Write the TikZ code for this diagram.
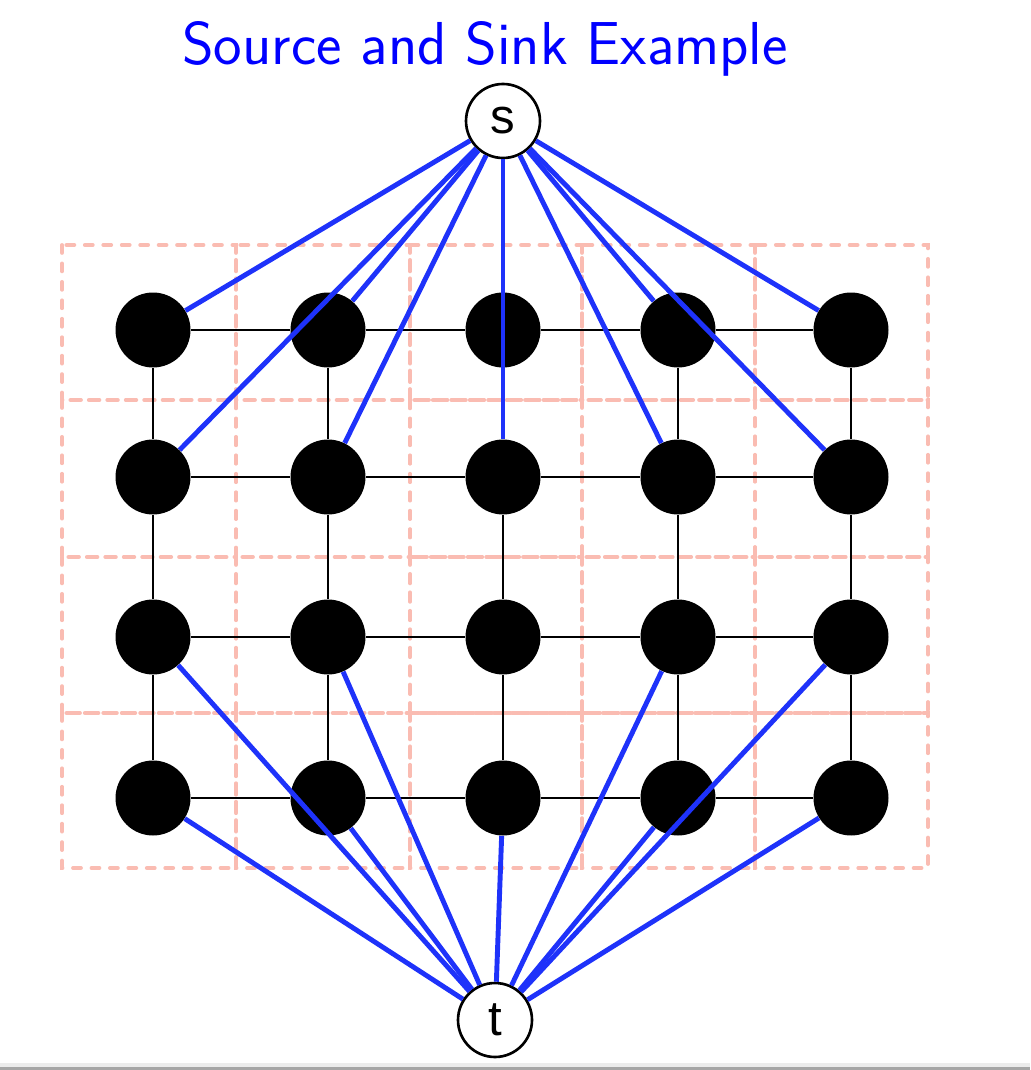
\documentclass[tikz,border=0pt]{standalone}
\usepackage{fontspec}
\newfontfamily\labelfont{Liberation Sans}
\usetikzlibrary{positioning}
\definecolor{cellpink}{RGB}{250,188,178}
\definecolor{edgeblue}{RGB}{30,50,250}
\tikzset{
  gridnode/.style={circle,fill=black,draw=none,minimum size=1.5cm,inner sep=0pt},
  termnode/.style={circle,draw=black,line width=1.5pt,fill=white,minimum size=1.48cm,
    inner sep=0pt,font=\labelfont\fontsize{28}{32}\selectfont},
  cellbox/.style={draw=cellpink,line width=2.2pt,dash pattern=on 4.5pt off 6pt,line cap=round},
  gridedge/.style={draw=black,line width=1.1pt},
  flowedge/.style={draw=edgeblue,line width=2.8pt}
}

\begin{document}
\begin{tikzpicture}[x=0.02cm,y=-0.02cm]
  \useasboundingbox (0,0) rectangle (1030,1070);

  % Title
  \node[font=\sffamily\fontsize{34.5}{40}\selectfont,text=blue] (title) at (485,49) {Source and Sink Example};

  % Dashed cells
  \foreach \xa/\xb in {62/236,236/410,410/582,582/755,755/928}{
    \foreach \ya/\yb in {245/400,400/557,557/713,713/868}{
      \draw[cellbox] (\xa,\ya) rectangle (\xb,\yb);
    }
  }

  % Grid nodes
  \foreach \c/\x in {0/153,1/328,2/503,3/678,4/851}{
    \foreach \r/\y in {0/330,1/477,2/637,3/798}{
      \node[gridnode] (n\r\c) at (\x,\y) {};
    }
  }

  % Grid edges
  \foreach \r in {0,...,3}{
    \foreach \c/\d in {0/1,1/2,2/3,3/4}{
      \draw[gridedge] (n\r\c) -- (n\r\d);
    }
  }
  \foreach \c in {0,...,4}{
    \foreach \r/\q in {0/1,1/2,2/3}{
      \draw[gridedge] (n\r\c) -- (n\q\c);
    }
  }

  % Source and sink
  \node[termnode] (s) at (503,121) {s};
  \node[termnode] (t) at (495,1020) {t};

  \foreach \v in {00,01,03,04,10,11,12,13,14}{
    \draw[flowedge] (s) -- (n\v);
  }
  \foreach \v in {20,21,23,24,30,31,32,33,34}{
    \draw[flowedge] (t) -- (n\v);
  }

  % Bottom bar
  \fill[gray!15] (0,1063) rectangle (1030,1067);
  \fill[gray!70] (0,1067) rectangle (1030,1070);

\end{tikzpicture}
\end{document}
